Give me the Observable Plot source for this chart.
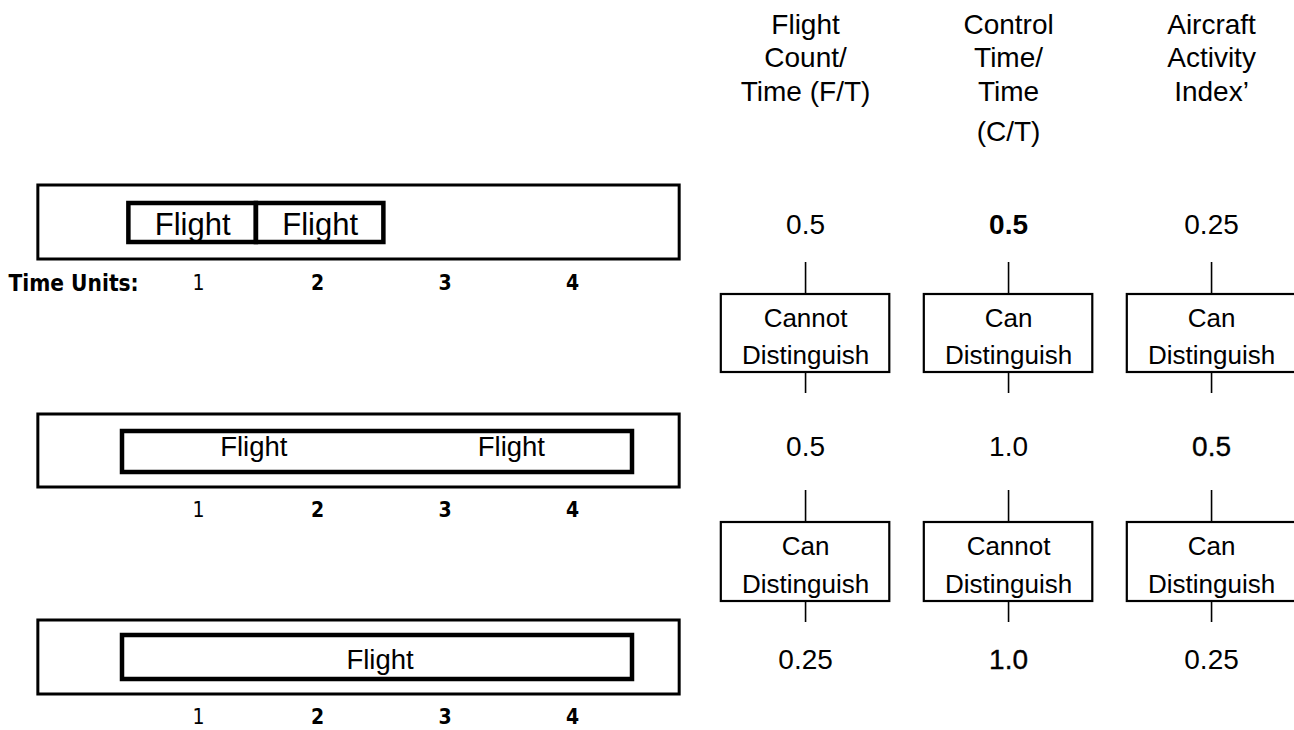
<!DOCTYPE html>
<html><head><meta charset="utf-8">
<script src="https://cdn.jsdelivr.net/npm/d3@7"></script>
<script src="https://cdn.jsdelivr.net/npm/@observablehq/plot@0.6"></script>
<style>
html,body{margin:0;padding:0;background:#fff;}
#wrap{position:relative;width:1294px;height:730px;background:#fff;}
#wrap svg{position:absolute;left:0;top:0;overflow:visible;}
</style></head><body><div id="wrap"></div>
<script>
// ---------- data ----------
const scenarios = ["Scenario 1", "Scenario 2", "Scenario 3"];
const timeUnits = [1, 2, 3, 4];
// control-time spans (in time units, 0 = start of unit 1)
const spanScenario = [0, 0, 1, 2];
const spanStart = [0.05, 1.05, 0, 0];
const spanEnd = [1.05, 2.05, 4, 4];
// "Flight" labels
const flightScenario = [0, 0, 1, 1, 2];
const flightAt = [0.55, 1.55, 1.03, 3.05, 2.02];

const measures = ["F/T", "C/T", "AAI"];
const headerLines = [
  ["Flight", "Count/", "Time (F/T)"],
  ["Control", "Time/", "Time", "(C/T)"],
  ["Aircraft", "Activity", "Index’"]
];
const ftValues = [0.5, 0.5, 0.25];
const ctValues = [0.5, 1.0, 1.0];
const aaiValues = [0.25, 0.5, 0.25];
// emphasis of printed values: [row, column, weight]
const emphasis = [[0, 1, "bold"], [1, 2, "semi"], [2, 1, "semi"]];
const compare12 = ["Cannot", "Can", "Can"];
const compare23 = ["Can", "Cannot", "Can"];

// ---------- layout ----------
const L = {
  unitPx0: 122, unitPx: 127.5,
  frame: [-0.66, 4.37],
  rowFrame: [[185, 259], [414, 487], [620, 694]],
  rowInner: [[203, 242], [431, 472], [635, 679]],
  rowMid: [225, 447, 660],
  rowUnits: [283, 510, 717],
  header: [25, 58, 92, 132],
  cmpBox: [[294, 372], [522, 601]],
  cmpUp: [[262, 294], [490, 522]],
  cmpDown: [[372, 393], [601, 622]],
  colRange: [686.3, 1329.8], colPad: 0.17
};
const SANS = "Liberation Sans, Arial, Helvetica, sans-serif";
const NARROW = "Liberation Sans Narrow, Arial Narrow, DejaVu Sans Condensed, sans-serif";
const W = 1294, H = 730;
const yLay = {type: "linear", domain: [0, H], range: [0, H], axis: null};

// ---------- left: timelines ----------
const spans = spanStart.map((s, i) => ({s, e: spanEnd[i], r: spanScenario[i]}));
const flights = flightAt.map((u, i) => ({u, r: flightScenario[i]}));
const units = scenarios.flatMap((sc, r) => timeUnits.map(t => ({t, r})));

const left = Plot.plot({
  width: W, height: H, margin: 0,
  x: {type: "linear", domain: [(0 - L.unitPx0) / L.unitPx, (W - L.unitPx0) / L.unitPx], range: [0, W], axis: null},
  y: yLay,
  style: {background: "transparent", overflow: "visible"},
  marks: [
    Plot.rect(scenarios, {x1: () => L.frame[0], x2: () => L.frame[1],
      y1: (d, i) => L.rowFrame[i][0], y2: (d, i) => L.rowFrame[i][1],
      fill: "none", stroke: "black", strokeWidth: 3}),
    Plot.rect(spans, {x1: "s", x2: "e", y1: d => L.rowInner[d.r][0], y2: d => L.rowInner[d.r][1],
      fill: "none", stroke: "black", strokeWidth: 4.5}),
    Plot.text(flights.filter(d => d.r === 0), {x: "u", y: d => L.rowMid[d.r], text: () => "Flight",
      fontSize: 31, fontFamily: SANS, fill: "black"}),
    Plot.text(flights.filter(d => d.r > 0), {x: "u", y: d => L.rowMid[d.r], text: () => "Flight",
      fontSize: 27.5, fontFamily: SANS, fill: "black"}),
    Plot.text(units.filter(d => d.t === 1), {x: d => d.t - 0.45, y: d => L.rowUnits[d.r], text: d => String(d.t),
      fontSize: 21, fontFamily: NARROW, fill: "black", dx: 6}),
    Plot.text(units.filter(d => d.t > 1), {x: d => d.t - 0.47, y: d => L.rowUnits[d.r], text: d => String(d.t),
      fontSize: 21, fontWeight: "bold", fontFamily: NARROW, fill: "black"}),
    Plot.text(["Time Units:"], {frameAnchor: "left", dx: 8, y: () => L.rowUnits[0], text: d => d,
      textAnchor: "start", fontSize: 22.5, fontWeight: "bold", fontFamily: NARROW, fill: "black"})
  ]
});

// ---------- right: measures ----------
const fmt = v => (v === 1 ? "1.0" : String(v));
const hdr = headerLines.flatMap((lines, c) => lines.map((line, i) => ({m: measures[c], line, i})));
const vals = [ftValues, ctValues, aaiValues].flatMap((arr, c) =>
  arr.map((v, r) => {
    const e = emphasis.find(([er, ec]) => er === r && ec === c);
    return {m: measures[c], v, r, w: e ? e[2] : "normal"};
  }));
const cmps = [compare12, compare23].flatMap((arr, k) => arr.map((word, c) => ({m: measures[c], word, k})));

const right = Plot.plot({
  width: W, height: H, margin: 0,
  x: {type: "band", domain: measures, range: L.colRange, padding: L.colPad, round: false, axis: null},
  y: yLay,
  style: {background: "transparent", overflow: "visible"},
  marks: [
    Plot.text(hdr, {x: "m", y: d => L.header[d.i], text: "line", fontSize: 28, fontFamily: SANS, fill: "black"}),
    Plot.text(vals.filter(d => d.w === "normal"), {x: "m", y: d => L.rowMid[d.r], text: d => fmt(d.v),
      fontSize: 28, fontFamily: SANS, fill: "black"}),
    Plot.text(vals.filter(d => d.w === "semi"), {x: "m", y: d => L.rowMid[d.r], text: d => fmt(d.v),
      fontSize: 28, fontFamily: SANS, fill: "black", stroke: "black", strokeWidth: 0.35}),
    Plot.text(vals.filter(d => d.w === "bold"), {x: "m", y: d => L.rowMid[d.r], text: d => fmt(d.v),
      fontSize: 28, fontWeight: "bold", fontFamily: SANS, fill: "black"}),
    Plot.ruleX(cmps, {x: "m", y1: d => L.cmpUp[d.k][0], y2: d => L.cmpUp[d.k][1], stroke: "black", strokeWidth: 1.6}),
    Plot.ruleX(cmps, {x: "m", y1: d => L.cmpDown[d.k][0], y2: d => L.cmpDown[d.k][1], stroke: "black", strokeWidth: 1.6}),
    Plot.barY(cmps, {x: "m", y1: d => L.cmpBox[d.k][0], y2: d => L.cmpBox[d.k][1],
      fill: "white", stroke: "black", strokeWidth: 2.2}),
    Plot.text(cmps, {x: "m", y: d => (L.cmpBox[d.k][0] + L.cmpBox[d.k][1]) / 2,
      text: d => d.word + "\nDistinguish", lineHeight: 1.45, fontSize: 26, fontFamily: SANS, fill: "black"})
  ]
});

const wrap = document.getElementById("wrap");
wrap.appendChild(left);
wrap.appendChild(right);
</script>
</body></html>
